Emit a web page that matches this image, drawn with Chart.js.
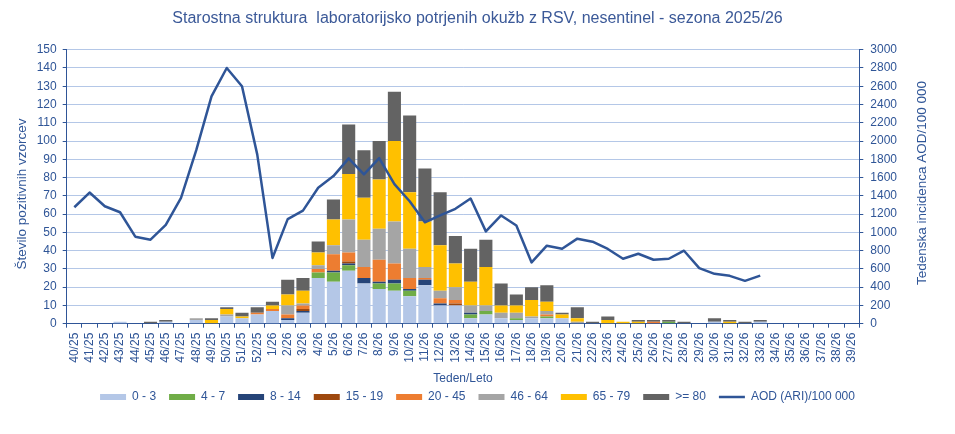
<!DOCTYPE html>
<html>
<head>
<meta charset="utf-8">
<script src="https://cdn.jsdelivr.net/npm/chart.js@4.4.1/dist/chart.umd.min.js"></script>
<style>
  html, body { margin: 0; padding: 0; background: #ffffff; }
  #rsv_canvas { display: block; }
</style>
</head>
<body>
<canvas id="rsv_canvas" width="955" height="434"></canvas>
<script>
// Weeks of the season 2025/26 (40/25 .. 39/26)
var weeks = [
    "40/25", "41/25", "42/25", "43/25", "44/25", "45/25", "46/25", "47/25", "48/25", "49/25",
    "50/25", "51/25", "52/25", "1/26", "2/26", "3/26", "4/26", "5/26", "6/26", "7/26",
    "8/26", "9/26", "10/26", "11/26", "12/26", "13/26", "14/26", "15/26", "16/26", "17/26",
    "18/26", "19/26", "20/26", "21/26", "22/26", "23/26", "24/26", "25/26", "26/26", "27/26",
    "28/26", "29/26", "30/26", "31/26", "32/26", "33/26", "34/26", "35/26", "36/26", "37/26",
    "38/26", "39/26"
];

// Positive samples per age group, one value per week
var age0_3 = [0, 0, 0, 1, 0, 0, 1, 0, 2, 0, 4, 3, 5, 7, 2, 6, 25, 23, 29, 22, 19, 18, 15, 21, 10, 10, 3, 5, 3, 2, 3, 3, 3, 0, 0, 0, 0, 0, 0, 0, 0, 0, 1, 0, 0, 1, 0, 0, 0, 0, 0, 0];
var age4_7 = [0, 0, 0, 0, 0, 0, 0, 0, 0, 0, 0, 0, 0, 0, 0, 0, 3, 5, 3, 0, 3, 4, 3, 0, 0, 0, 2, 2, 0, 1, 0, 1, 0, 0, 0, 0, 0, 0, 0, 1, 0, 0, 0, 0, 0, 0, 0, 0, 0, 0, 0, 0];
var age8_14 = [0, 0, 0, 0, 0, 0, 0, 0, 0, 0, 0, 0, 0, 0, 1, 1, 0, 1, 1, 3, 1, 2, 1, 3, 1, 0, 1, 0, 0, 0, 0, 0, 0, 0, 0, 0, 0, 0, 0, 0, 0, 0, 0, 0, 0, 0, 0, 0, 0, 0, 0, 0];
var age15_19 = [0, 0, 0, 0, 0, 0, 0, 0, 0, 0, 0, 0, 0, 0, 0, 1, 0, 0, 1, 0, 0, 0, 0, 0, 0, 1, 0, 0, 0, 0, 0, 0, 0, 0, 0, 0, 0, 0, 0, 0, 0, 0, 0, 0, 0, 0, 0, 0, 0, 0, 0, 0];
var age20_45 = [0, 0, 0, 0, 0, 0, 0, 0, 0, 0, 0, 0, 1, 1, 2, 2, 2, 9, 5, 6, 12, 9, 6, 1, 3, 2, 0, 0, 0, 0, 0, 1, 0, 0, 0, 0, 0, 0, 1, 0, 0, 0, 0, 0, 0, 0, 0, 0, 0, 0, 0, 0];
var age46_64 = [0, 0, 0, 0, 0, 0, 0, 0, 1, 0, 1, 0, 0, 0, 5, 1, 2, 5, 18, 15, 17, 23, 16, 6, 4, 7, 4, 3, 3, 3, 1, 2, 0, 1, 0, 0, 0, 0, 0, 0, 0, 0, 0, 0, 0, 0, 0, 0, 0, 0, 0, 0];
var age65_79 = [0, 0, 0, 0, 0, 0, 0, 0, 0, 2, 3, 1, 0, 2, 6, 7, 7, 14, 25, 23, 27, 44, 31, 25, 25, 13, 13, 21, 4, 4, 9, 5, 2, 2, 0, 2, 1, 1, 0, 0, 0, 0, 0, 1, 0, 0, 0, 0, 0, 0, 0, 0];
var age80 = [0, 0, 0, 0, 0, 1, 1, 0, 0, 1, 1, 2, 3, 2, 8, 7, 6, 11, 27, 26, 21, 27, 42, 29, 29, 15, 18, 15, 12, 6, 7, 9, 1, 6, 1, 2, 0, 1, 1, 1, 1, 0, 2, 1, 1, 1, 0, 0, 0, 0, 0, 0];

// Weekly incidence of ARI per 100 000 (right axis)
var aodIncidence = [
    1275, 1436, 1286, 1220, 953, 920, 1081, 1378, 1900, 2488,
    2800, 2600, 1854, 720, 1145, 1238, 1488, 1616, 1810, 1634,
    1813, 1528, 1341, 1110, 1185, 1258, 1370, 1011, 1185, 1075,
    671, 854, 821, 931, 898, 818, 711, 766, 700, 711,
    799, 609, 546, 524, 469, 527, null, null, null, null,
    null, null
];

var blue = "#2F5597";
var font = "'Liberation Sans', Arial, sans-serif";

function barSet(label, data, color) {
    return {
        type: "bar",
        label: label,
        data: data,
        backgroundColor: color,
        borderWidth: 0,
        pointStyle: "rect",
        barPercentage: 0.86,
        categoryPercentage: 1.0,
        yAxisID: "y",
        order: 1,
    };
}

// Both y axis titles read bottom-to-top; drawn by hand so they sit where Excel put them
function sideTitle(ctx, text, x, y) {
    ctx.save();
    ctx.translate(x, y);
    ctx.rotate(-Math.PI / 2);
    ctx.fillStyle = blue;
    ctx.font = "13.5px " + font;
    ctx.textAlign = "center";
    ctx.textBaseline = "middle";
    ctx.fillText(text, 0, 0);
    ctx.restore();
}

var axisTitles = {
    id: "axisTitles",
    afterDraw: function (chart) {
        var ctx = chart.ctx;
        sideTitle(ctx, "Število pozitivnih vzorcev", chart.scales.y.left + 22, 194);
        sideTitle(ctx, "Tedenska incidenca AOD/100 000", chart.scales.y1.left + 63, 183);
    },
};

var rsv_canvas = document.getElementById("rsv_canvas");

var rsvChart = new Chart(rsv_canvas, {
    type: "bar",
    data: {
        labels: weeks,
        datasets: [
            barSet("0 - 3", age0_3, "#B4C7E7"),
            barSet("4 - 7", age4_7, "#70AD47"),
            barSet("8 - 14", age8_14, "#264478"),
            barSet("15 - 19", age15_19, "#9E480E"),
            barSet("20 - 45", age20_45, "#ED7D31"),
            barSet("46 - 64", age46_64, "#A5A5A5"),
            barSet("65 - 79", age65_79, "#FFC000"),
            barSet(">= 80", age80, "#636363"),
            {
                type: "line",
                label: "AOD (ARI)/100 000",
                data: aodIncidence,
                borderColor: blue,
                backgroundColor: blue,
                borderWidth: 2.5,
                borderJoinStyle: "round",
                pointRadius: 0,
                pointHoverRadius: 0,
                pointStyle: "line",
                tension: 0,
                spanGaps: false,
                yAxisID: "y1",
                order: 0,
            },
        ],
    },
    options: {
        responsive: false,
        animation: false,
        devicePixelRatio: 1,
        layout: {
            padding: { left: 0, right: 0, top: 0, bottom: 21 },
        },
        plugins: {
            title: {
                display: true,
                text: "Starostna struktura  laboratorijsko potrjenih okužb z RSV, nesentinel - sezona 2025/26",
                color: "#3B5998",
                font: { family: font, size: 16, weight: "normal" },
                padding: { top: 8.5, bottom: 22 },
            },
            legend: {
                position: "bottom",
                labels: {
                    color: blue,
                    font: { family: font, size: 12 },
                    usePointStyle: true,
                    pointStyleWidth: 26,
                    boxWidth: 26,
                    boxHeight: 6,
                    padding: 13,
                    // keep the dataset order, not the drawing order
                    sort: function (a, b) {
                        return a.datasetIndex - b.datasetIndex;
                    },
                },
            },
            tooltip: { enabled: false },
        },
        scales: {
            x: {
                stacked: true,
                afterFit: function (scale) {
                    scale.height = 54.3;
                },
                grid: {
                    drawOnChartArea: false,
                    tickColor: blue,
                    tickLength: 4,
                },
                border: { color: blue, width: 1 },
                ticks: {
                    autoSkip: false,
                    minRotation: 90,
                    maxRotation: 90,
                    padding: 5,
                    color: blue,
                    font: { family: font, size: 12 },
                },
                title: {
                    display: true,
                    text: "Teden/Leto",
                    color: blue,
                    font: { family: font, size: 12 },
                    padding: { top: 0, bottom: -8 },
                },
            },
            y: {
                stacked: true,
                position: "left",
                min: 0,
                max: 150,
                afterFit: function (scale) {
                    scale.width = 66.7;
                },
                grid: {
                    color: "#B4C7E7",
                    tickColor: blue,
                    tickLength: 4,
                },
                border: { color: blue, width: 1 },
                ticks: {
                    stepSize: 10,
                    padding: 6,
                    color: blue,
                    font: { family: font, size: 12 },
                },
            },
            y1: {
                position: "right",
                min: 0,
                max: 3000,
                afterFit: function (scale) {
                    scale.width = 95.7;
                },
                grid: {
                    drawOnChartArea: false,
                    tickColor: blue,
                    tickLength: 4,
                },
                border: { color: blue, width: 1 },
                ticks: {
                    stepSize: 200,
                    padding: 7,
                    color: blue,
                    font: { family: font, size: 12 },
                    callback: function (value) {
                        return String(value);
                    },
                },
            },
        },
    },
    plugins: [axisTitles],
});
</script>
</body>
</html>
